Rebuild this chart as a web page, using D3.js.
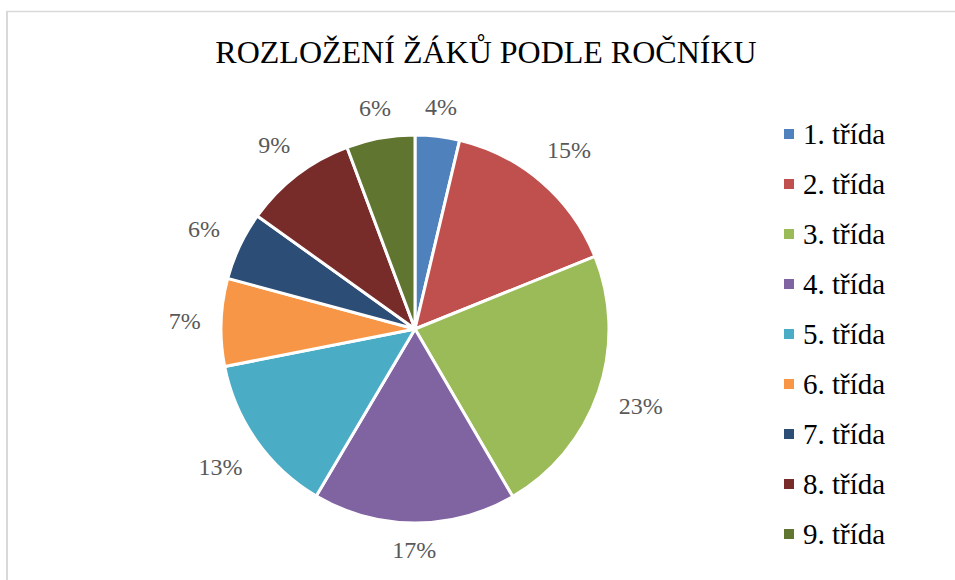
<!DOCTYPE html>
<html>
<head>
<meta charset="utf-8">
<script src="https://cdn.jsdelivr.net/npm/d3@7"></script>
<style>
  html, body { margin: 0; padding: 0; background: #fff; }
  svg { display: block; }
</style>
</head>
<body>
<svg id="chart" width="955" height="580"></svg>
<script>
const title = 'ROZLOŽENÍ ŽÁKŮ PODLE ROČNÍKU';
const categories = ['1. třída', '2. třída', '3. třída', '4. třída', '5. třída', '6. třída', '7. třída', '8. třída', '9. třída'];
const shares = [3.7, 15.2, 22.7, 16.9, 13.4, 7.3, 5.7, 9.4, 5.7];
const colors = ['#4f81bd', '#c0504d', '#9bbb59', '#8064a2', '#4bacc6', '#f79646', '#2c4d75', '#772c2a', '#5f7530'];

const width = 955, height = 580;
const cx = 415, cy = 329, R = 194;

const svg = d3.select('#chart');

// chart frame (only top and left edges visible in the crop)
svg.append('line').attr('x1', 6).attr('x2', width).attr('y1', 11.5).attr('y2', 11.5)
  .attr('stroke', '#d9d9d9').attr('stroke-width', 1.5);
svg.append('line').attr('x1', 7).attr('x2', 7).attr('y1', 11).attr('y2', height)
  .attr('stroke', '#d9d9d9').attr('stroke-width', 2);

svg.append('text')
  .attr('x', 486).attr('y', 63)
  .attr('text-anchor', 'middle')
  .attr('font-family', '"Liberation Serif", "Times New Roman", serif')
  .attr('font-size', 32)
  .attr('fill', '#000')
  .text(title);

const data = categories.map((c, i) => ({ name: c, value: shares[i], color: colors[i] }));
const total = d3.sum(shares);

const pie = d3.pie().value(d => d.value).sort(null);
const arc = d3.arc().innerRadius(0).outerRadius(R);
const arcs = pie(data);

const g = svg.append('g').attr('transform', `translate(${cx},${cy})`);
g.selectAll('path.slice').data(arcs).enter().append('path')
  .attr('class', 'slice')
  .attr('d', arc)
  .attr('fill', d => d.data.color)
  .attr('stroke', '#fff')
  .attr('stroke-width', 3)
  .attr('stroke-linejoin', 'round');

// outside-end labels
const labels = g.selectAll('text.lbl').data(arcs).enter().append('text')
  .attr('class', 'lbl')
  .attr('text-anchor', 'middle')
  .attr('dominant-baseline', 'central')
  .attr('font-family', '"Liberation Serif", "Times New Roman", serif')
  .attr('font-size', 24)
  .attr('fill', '#595959')
  .text(d => Math.round(d.data.value / total * 100) + '%');

labels.each(function(d) {
  const w = this.getComputedTextLength();
  const h = 26;
  const a = (d.startAngle + d.endAngle) / 2;
  const s = Math.sin(a), c = Math.cos(a);
  const r = R + 14 + (w / 2 + 6) * Math.abs(s) + (h / 2) * Math.abs(c);
  d3.select(this).attr('x', r * s).attr('y', -r * c);
});

// legend
const legend = svg.append('g').attr('transform', 'translate(784,134)');
const item = legend.selectAll('g').data(data).enter().append('g')
  .attr('transform', (d, i) => `translate(0,${i * 50})`);
item.append('rect')
  .attr('x', 0).attr('y', -5).attr('width', 10).attr('height', 10)
  .attr('fill', d => d.color);
item.append('text')
  .attr('x', 19).attr('y', 9.5)
  .attr('font-family', '"Liberation Serif", "Times New Roman", serif')
  .attr('font-size', 29)
  .attr('fill', '#000')
  .text(d => d.name);
</script>
</body>
</html>
